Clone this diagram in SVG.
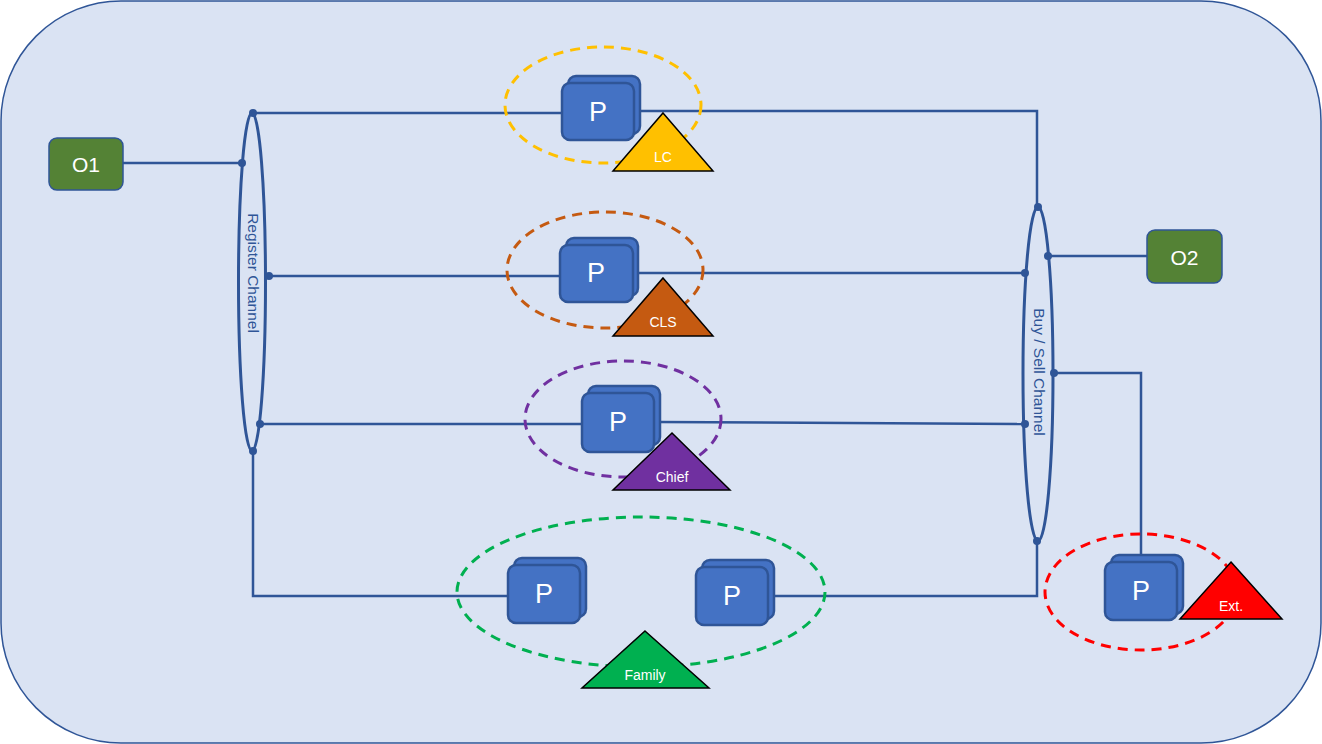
<svg xmlns="http://www.w3.org/2000/svg" width="1322" height="744" viewBox="0 0 1322 744">
<defs>
<style>
.bg{fill:#dae3f3;stroke:#2f5597;stroke-width:1.5}
.ln{fill:none;stroke:#2f5597;stroke-width:2.5}
.ch{fill:none;stroke:#2f5597;stroke-width:3}
.dot{fill:#2f5597}
.chtxt{font-family:"Liberation Sans",Arial,sans-serif;font-size:15.5px;fill:#2f5597;text-anchor:middle;dominant-baseline:central}
.o{fill:#548235;stroke:#2f5597;stroke-width:1.5}
.otxt{font-family:"Liberation Sans",Arial,sans-serif;font-size:21px;fill:#ffffff;text-anchor:middle;dominant-baseline:central}
.p{fill:#4472c4;stroke:#2f5597;stroke-width:2.5}
.ptxt{font-family:"Liberation Sans",Arial,sans-serif;font-size:27px;fill:#ffffff;text-anchor:middle;dominant-baseline:central}
.grp{fill:none;stroke-width:3;stroke-dasharray:10 7}
.tri{stroke:#000000;stroke-width:1.5}
.ttxt{font-family:"Liberation Sans",Arial,sans-serif;font-size:14px;fill:#ffffff;text-anchor:middle}
</style>
</defs>
<rect class="bg" x="1" y="1" width="1320" height="742" rx="120" ry="120"/>

<g id="connectors">
<polyline class="ln" points="123,163 242,163"/>
<polyline class="ln" points="253,113 563,113"/>
<polyline class="ln" points="640,111 1037,111 1037,207"/>
<polyline class="ln" points="270,276 561,276"/>
<polyline class="ln" points="634,273 1025,273"/>
<polyline class="ln" points="260,424 583,424"/>
<polyline class="ln" points="658,422 1025,424"/>
<polyline class="ln" points="253,451 253,596 509,596"/>
<polyline class="ln" points="773,596 1037,596 1037,541"/>
<polyline class="ln" points="1048,256 1147,256"/>
<polyline class="ln" points="1054,373 1141,373 1141,557"/>
</g>

<g id="register-channel">
<ellipse class="ch" cx="252" cy="282" rx="13.5" ry="169"/>
<text class="chtxt" transform="translate(253,273) rotate(90)">Register Channel</text>
<circle class="dot" cx="253" cy="113" r="4"/>
<circle class="dot" cx="242" cy="163" r="4"/>
<circle class="dot" cx="269" cy="276" r="4"/>
<circle class="dot" cx="260" cy="424" r="4"/>
<circle class="dot" cx="253" cy="451" r="4"/>
</g>

<g id="buysell-channel">
<ellipse class="ch" cx="1038" cy="374" rx="15" ry="167"/>
<text class="chtxt" transform="translate(1039,372) rotate(90)">Buy / Sell Channel</text>
<circle class="dot" cx="1038" cy="207" r="4"/>
<circle class="dot" cx="1048" cy="256" r="4"/>
<circle class="dot" cx="1025" cy="273" r="4"/>
<circle class="dot" cx="1054" cy="373" r="4"/>
<circle class="dot" cx="1025" cy="424" r="4"/>
<circle class="dot" cx="1037" cy="541" r="4"/>
</g>

<g id="O1">
<rect class="o" x="49" y="138" width="74" height="52" rx="8"/>
<text class="otxt" x="86" y="164">O1</text>
</g>
<g id="O2">
<rect class="o" x="1147" y="230" width="75" height="53" rx="8"/>
<text class="otxt" x="1184.5" y="257">O2</text>
</g>

<g id="group-LC">
<ellipse class="grp" stroke="#ffc000" cx="603" cy="105" rx="98" ry="58"/>
<g id="P-LC">
<rect class="p" x="568" y="76" width="72" height="58" rx="8"/>
<rect class="p" x="562" y="83" width="72" height="57" rx="8"/>
<text class="ptxt" x="598" y="112">P</text>
</g>
<polygon class="tri" fill="#ffc000" points="663,113 713,171 613,171"/>
<text class="ttxt" x="663" y="162">LC</text>
</g>

<g id="group-CLS">
<ellipse class="grp" stroke="#c55a11" cx="605" cy="270" rx="98" ry="58"/>
<g id="P-CLS">
<rect class="p" x="566" y="238" width="72" height="58" rx="8"/>
<rect class="p" x="560" y="245" width="73" height="57" rx="8"/>
<text class="ptxt" x="596" y="273">P</text>
</g>
<polygon class="tri" fill="#c55a11" points="663,278 713,336 613,336"/>
<text class="ttxt" x="663" y="327">CLS</text>
</g>

<g id="group-Chief">
<ellipse class="grp" stroke="#7030a0" cx="623" cy="419" rx="98" ry="58"/>
<g id="P-Chief">
<rect class="p" x="588" y="386" width="72" height="59" rx="8"/>
<rect class="p" x="582" y="393" width="72" height="59" rx="8"/>
<text class="ptxt" x="618" y="422">P</text>
</g>
<polygon class="tri" fill="#7030a0" points="672,433 730,490 613,490"/>
<text class="ttxt" x="672" y="482">Chief</text>
</g>

<g id="group-Family">
<ellipse class="grp" stroke="#00b050" cx="641" cy="592" rx="184" ry="75"/>
<g id="P-Family-1">
<rect class="p" x="514" y="558" width="72" height="59" rx="8"/>
<rect class="p" x="508" y="565" width="72" height="58" rx="8"/>
<text class="ptxt" x="544" y="594">P</text>
</g>
<g id="P-Family-2">
<rect class="p" x="702" y="560" width="72" height="59" rx="8"/>
<rect class="p" x="696" y="567" width="72" height="58" rx="8"/>
<text class="ptxt" x="732" y="596">P</text>
</g>
<polygon class="tri" fill="#00b050" points="645,631 709,688 582,688"/>
<text class="ttxt" x="645" y="680">Family</text>
</g>

<g id="group-Ext">
<ellipse class="grp" stroke="#ff0000" cx="1141" cy="592" rx="96" ry="58"/>
<g id="P-Ext">
<rect class="p" x="1111" y="555" width="72" height="59" rx="8"/>
<rect class="p" x="1105" y="562" width="72" height="58" rx="8"/>
<text class="ptxt" x="1141" y="591">P</text>
</g>
<polygon class="tri" fill="#ff0000" points="1231,562 1282,619 1180,619"/>
<text class="ttxt" x="1231" y="611">Ext.</text>
</g>
</svg>
